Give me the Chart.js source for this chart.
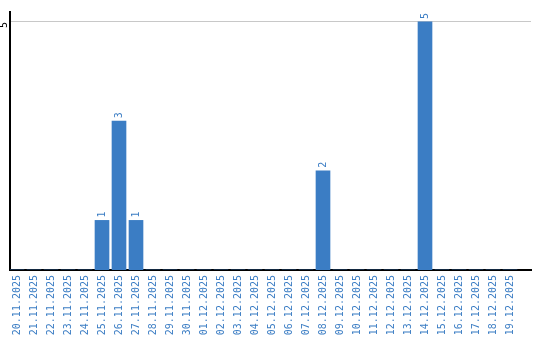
<!DOCTYPE html>
<html>
<head>
<meta charset="utf-8">
<script src="https://cdn.jsdelivr.net/npm/chart.js@4/dist/chart.umd.min.js"></script>
<style>
  html, body { margin: 0; padding: 0; background: #fff; }
  #wrap { width: 540px; height: 340px; }
</style>
</head>
<body>
<div id="wrap"><canvas id="chart"></canvas></div>
<script>
const dates = [
  '20.11.2025', '21.11.2025', '22.11.2025', '23.11.2025', '24.11.2025',
  '25.11.2025', '26.11.2025', '27.11.2025', '28.11.2025', '29.11.2025',
  '30.11.2025', '01.12.2025', '02.12.2025', '03.12.2025', '04.12.2025',
  '05.12.2025', '06.12.2025', '07.12.2025', '08.12.2025', '09.12.2025',
  '10.12.2025', '11.12.2025', '12.12.2025', '13.12.2025', '14.12.2025',
  '15.12.2025', '16.12.2025', '17.12.2025', '18.12.2025', '19.12.2025'
];
const counts = [
  0, 0, 0, 0, 0,
  1, 3, 1, 0, 0,
  0, 0, 0, 0, 0,
  0, 0, 0, 2, 0,
  0, 0, 0, 0, 5,
  0, 0, 0, 0, 0
];
const yTicks = [5];

const blue = '#3b7dc4';
Chart.defaults.font.family = 'DejaVu Sans Mono';
Chart.defaults.font.size = 10;

// rotated value labels above the bars
const barLabels = {
  id: 'barLabels',
  afterDatasetsDraw(chart) {
    const ctx = chart.ctx;
    const meta = chart.getDatasetMeta(0);
    ctx.save();
    ctx.fillStyle = blue;
    ctx.font = '10px "DejaVu Sans Mono"';
    ctx.textAlign = 'left';
    ctx.textBaseline = 'middle';
    meta.data.forEach((bar, i) => {
      if (!counts[i]) return;
      ctx.save();
      ctx.translate(bar.x, bar.y - 3);
      ctx.rotate(-Math.PI / 2);
      ctx.fillText(String(counts[i]), 0, 0);
      ctx.restore();
    });
    ctx.restore();
  }
};

new Chart(document.getElementById('chart'), {
  type: 'bar',
  data: {
    datasets: [{
      data: counts.map((c, i) => ({ x: i, y: c })),
      backgroundColor: blue,
      barThickness: 14,
      borderWidth: 0
    }]
  },
  options: {
    responsive: true,
    maintainAspectRatio: false,
    animation: false,
    layout: { padding: { top: 10, right: 9, left: 0, bottom: 0 } },
    scales: {
      x: {
        type: 'linear',
        offset: false,
        min: -7 / 17,
        max: 29 + 21 / 17,
        afterBuildTicks: (scale) => { scale.ticks = dates.map((d, i) => ({ value: i })); },
        afterFit: (scale) => { scale.height = 70; scale.paddingLeft = 0; scale.paddingRight = 0; },
        grid: { display: false, drawTicks: false, offset: false },
        border: { display: true, color: '#000', width: 2 },
        ticks: {
          autoSkip: false,
          minRotation: 90,
          maxRotation: 90,
          padding: 5,
          color: blue,
          callback: (v) => dates[v]
        }
      },
      y: {
        min: 0,
        max: 5.2,
        afterBuildTicks: (scale) => { scale.ticks = yTicks.map((v) => ({ value: v })); },
        afterFit: (scale) => { scale.width = 10; },
        grid: { color: '#c8c8c8', drawTicks: false },
        border: { display: true, color: '#000', width: 2 },
        ticks: {
          minRotation: 90,
          maxRotation: 90,
          padding: 6,
          color: '#000'
        }
      }
    },
    plugins: {
      legend: { display: false },
      tooltip: { enabled: false }
    }
  },
  plugins: [barLabels]
});
</script>
</body>
</html>
